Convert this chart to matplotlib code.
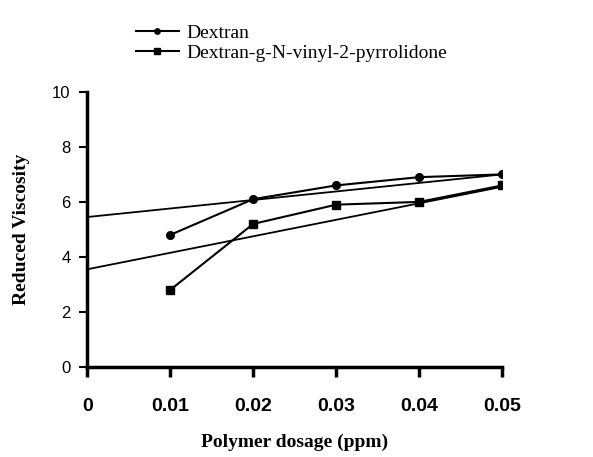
import numpy as np
import matplotlib.pyplot as plt

# data
dosage = [0.01, 0.02, 0.03, 0.04, 0.05]
dextran = [4.8, 6.1, 6.6, 6.9, 7.0]
copolymer = [2.8, 5.2, 5.9, 6.0, 6.6]

# trend lines (value at dosage 0 and at 0.05)
trend_x = [0.0, 0.05]
dextran_trend = [5.45, 7.0]
copolymer_trend = [3.55, 6.55]

xticks = [0, 0.01, 0.02, 0.03, 0.04, 0.05]
xticklabels = ['0', '0.01', '0.02', '0.03', '0.04', '0.05']
yticks = [0, 2, 4, 6, 8, 10]

fig = plt.figure(figsize=(5.93, 4.57), dpi=100)
ax = fig.add_axes([0.147, 0.197, 0.700, 0.602])

ax.plot(dosage, dextran, color='black', lw=1.5, marker='o', ms=5.5,
        label='Dextran')
ax.plot(dosage, copolymer, color='black', lw=1.5, marker='s', ms=5.5,
        label='Dextran-g-N-vinyl-2-pyrrolidone')
ax.plot(trend_x, dextran_trend, color='black', lw=1.3)
ax.plot(trend_x, copolymer_trend, color='black', lw=1.3)

ax.set_xlim(0, 0.05)
ax.set_ylim(0, 10)
ax.set_xticks(xticks)
ax.set_xticklabels(xticklabels)
ax.set_yticks(yticks)

for s in ['top', 'right']:
    ax.spines[s].set_visible(False)
for s in ['left', 'bottom']:
    ax.spines[s].set_linewidth(2.5)

ax.tick_params(axis='x', direction='out', length=7, width=2.5, pad=15)
ax.tick_params(axis='y', direction='out', length=6, width=1.5, pad=6)
for t in ax.get_xticklabels():
    t.set_fontfamily('Liberation Sans')
    t.set_fontweight('bold')
    t.set_fontsize(14)
for t in ax.get_yticklabels():
    t.set_fontfamily('Liberation Sans')
    t.set_fontsize(12)

ax.set_xlabel('Polymer dosage (ppm)', fontfamily='Liberation Serif',
              fontweight='bold', fontsize=14, labelpad=14)
ax.set_ylabel('Reduced Viscosity', fontfamily='Liberation Serif',
              fontweight='bold', fontsize=14, labelpad=16)

leg = fig.legend(loc='upper left', bbox_to_anchor=(0.2, 0.985), frameon=False,
                 prop={'family': 'Liberation Serif', 'size': 14},
                 handlelength=2.2, handletextpad=0.4, labelspacing=0.1,
                 markerscale=0.7)

fig.savefig('out.png', dpi=100)
